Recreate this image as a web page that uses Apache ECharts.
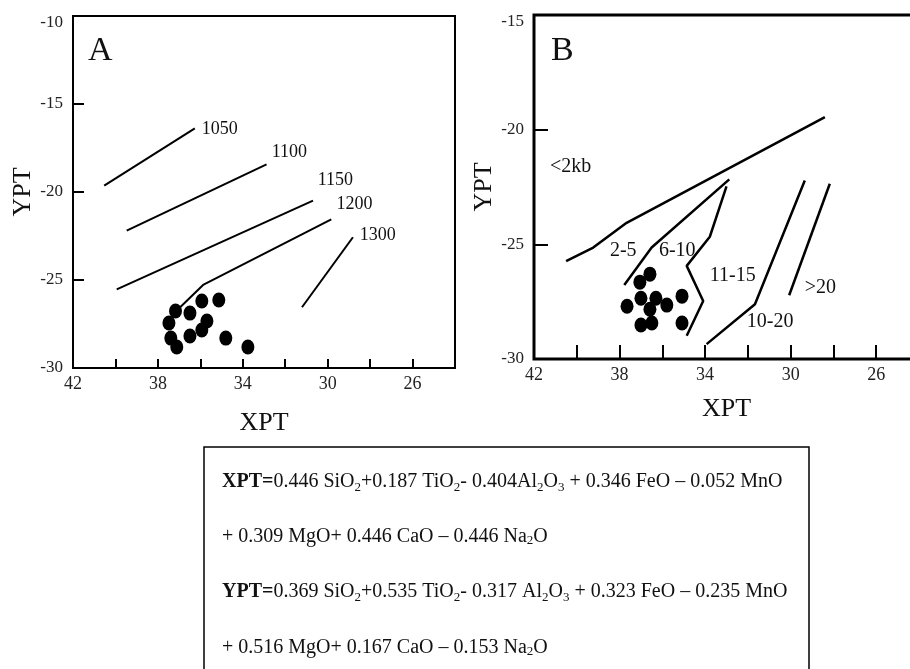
<!DOCTYPE html>
<html>
<head>
<meta charset="utf-8">
<title>XPT - YPT</title>
<script src="https://cdn.jsdelivr.net/npm/echarts@6/dist/echarts.min.js"></script>
<style>
  html, body { margin: 0; padding: 0; background: #fff; }
  #main { width: 910px; height: 669px; }
</style>
</head>
<body>
<div id="main"></div>
<script>
// sample points (XPT, YPT)
var samplesA = [
  [37.17, -26.76], [37.48, -27.44], [36.49, -26.88], [35.93, -26.19],
  [35.13, -26.14], [35.69, -27.33], [35.93, -27.84], [36.49, -28.18],
  [37.39, -28.30], [37.11, -28.81], [34.80, -28.30], [33.76, -28.81]
];
var samplesB = [
  [36.58, -26.30], [37.05, -26.65], [37.65, -27.70], [37.00, -27.35],
  [36.30, -27.35], [35.79, -27.65], [35.08, -27.26], [36.58, -27.83],
  [36.49, -28.43], [37.00, -28.52], [35.08, -28.43]
];

// isotherms (panel A)
var line1050 = [[40.53, -19.64], [36.26, -16.38]];
var line1100 = [[39.47, -22.20], [32.88, -18.43]];
var line1150 = [[39.94, -25.53], [30.69, -20.49]];
var line1200 = [[37.00, -26.60], [35.87, -25.28], [29.83, -21.55]];
var line1300 = [[31.21, -26.55], [28.81, -22.57]];
var labelsA = [
  ['1050', 35.93, -16.42], ['1100', 32.64, -17.73], ['1150', 30.47, -19.32],
  ['1200', 29.58, -20.68], ['1300', 28.49, -22.44]
];

// pressure fields (panel B)
var line2kb = [[40.50, -25.73], [39.23, -25.14], [37.67, -24.06], [28.40, -19.45]];
var line2to5 = [[37.78, -26.77], [36.50, -25.14], [32.87, -22.17]];
var line6to10 = [[33.00, -22.47], [33.78, -24.67], [34.86, -25.94], [34.09, -27.47], [34.86, -28.99]];
var line10to20 = [[29.34, -22.22], [31.67, -27.61], [33.93, -29.35]];
var line20 = [[28.17, -22.36], [30.07, -27.22]];
var labelsB = [
  ['<2kb', 41.25, -21.6], ['2-5', 38.45, -25.3], ['6-10', 36.16, -25.3],
  ['11-15', 33.78, -26.39], ['>20', 29.34, -26.91], ['10-20', 32.05, -28.39]
];

var serif = 'Liberation Serif';

function lineSeries(data, idx, w) {
  return {
    type: 'line', xAxisIndex: idx, yAxisIndex: idx, data: data,
    symbol: 'none', silent: true,
    lineStyle: { color: '#000', width: w }
  };
}
function dotSeries(data, idx) {
  return {
    type: 'scatter', xAxisIndex: idx, yAxisIndex: idx, data: data,
    symbol: 'circle', symbolSize: [13, 15],
    itemStyle: { color: '#000', opacity: 1 }, z: 5
  };
}
function textSeries(list, idx, size) {
  return {
    type: 'scatter', xAxisIndex: idx, yAxisIndex: idx, symbolSize: 0, silent: true,
    itemStyle: { opacity: 1 },
    data: list.map(function (d) { return { name: d[0], value: [d[1], d[2]] }; }),
    label: {
      show: true, position: 'right', distance: 0, formatter: '{b}',
      fontFamily: serif, fontSize: size, color: '#111', opacity: 1
    }
  };
}
function xAxisOf(idx, tickLen) {
  return {
    gridIndex: idx, type: 'value', min: 24, max: 42, interval: 2, inverse: true,
    name: 'XPT', nameLocation: 'middle', nameGap: idx ? 37 : 42,
    nameTextStyle: { fontFamily: serif, fontSize: 26, color: '#111' },
    axisLine: { show: false },
    axisTick: { inside: true, length: tickLen, lineStyle: { color: '#000', width: 2 } },
    axisLabel: {
      margin: 7, fontFamily: serif, fontSize: 18, color: '#222',
      formatter: function (v) { return (42 - v) % 4 === 0 ? String(v) : ''; }
    },
    splitLine: { show: false }
  };
}
function yAxisOf(idx, min, max, tickLen) {
  return {
    gridIndex: idx, type: 'value', min: min, max: max, interval: 5,
    name: 'YPT', nameLocation: 'middle', nameGap: idx ? 30 : 34,
    nameTextStyle: { fontFamily: serif, fontSize: 26, color: '#111' },
    axisLine: { show: false },
    axisTick: { inside: true, length: tickLen, lineStyle: { color: '#000', width: 2 } },
    axisLabel: {
      margin: 10, fontFamily: serif, fontSize: 17, color: '#222',
      formatter: function (v) { return v === max ? '{t|' + v + '}' : String(v); },
      rich: { t: { padding: [14, 0, 0, 0], fontFamily: serif, fontSize: 17, color: '#222' } }
    },
    splitLine: { show: false }
  };
}

var subRich = {
  b: { fontFamily: serif, fontSize: 20, fontWeight: 'bold', color: '#111', lineHeight: 24 },
  s: { fontFamily: serif, fontSize: 13, color: '#111', lineHeight: 15, verticalAlign: 'bottom' }
};
var formulaLines = [
  '{b|XPT=}0.446 SiO{s|2}+0.187 TiO{s|2}- 0.404Al{s|2}O{s|3} + 0.346 FeO \u2013 0.052 MnO',
  '+ 0.309 MgO+ 0.446 CaO \u2013 0.446 Na{s|2}O',
  '{b|YPT=}0.369 SiO{s|2}+0.535 TiO{s|2}- 0.317 Al{s|2}O{s|3} + 0.323 FeO \u2013 0.235 MnO',
  '+ 0.516 MgO+ 0.167 CaO \u2013 0.153 Na{s|2}O'
];
var formulaY = [482, 537, 592, 648];

var chart = echarts.init(document.getElementById('main'));
chart.setOption({
  animation: false,
  backgroundColor: '#fff',
  grid: [
    { left: 73, top: 16, width: 382, height: 352, show: true, borderColor: '#000', borderWidth: 2,
      outerBoundsMode: 'none' },
    { left: 534, top: 15, width: 385, height: 344, show: true, borderColor: '#000', borderWidth: 3,
      outerBoundsMode: 'none' }
  ],
  xAxis: [xAxisOf(0, 9), xAxisOf(1, 14)],
  yAxis: [yAxisOf(0, -30, -10, 11), yAxisOf(1, -30, -15, 14)],
  series: [
    lineSeries(line1050, 0, 2), lineSeries(line1100, 0, 2), lineSeries(line1150, 0, 2),
    lineSeries(line1200, 0, 2), lineSeries(line1300, 0, 2),
    dotSeries(samplesA, 0), textSeries(labelsA, 0, 18),
    lineSeries(line2kb, 1, 2.5), lineSeries(line2to5, 1, 2.5), lineSeries(line6to10, 1, 2.5),
    lineSeries(line10to20, 1, 2.5), lineSeries(line20, 1, 2.5),
    dotSeries(samplesB, 1), textSeries(labelsB, 1, 20)
  ],
  graphic: [
    { type: 'text', left: 88, top: 34, style: { text: 'A', font: '34px "Liberation Serif"', fill: '#111' } },
    { type: 'text', left: 551, top: 34, style: { text: 'B', font: '34px "Liberation Serif"', fill: '#111' } },
    { type: 'rect', shape: { x: 204, y: 447, width: 605, height: 260 },
      style: { fill: 'none', stroke: '#000', lineWidth: 1.5 } }
  ].concat(formulaLines.map(function (t, i) {
    return {
      type: 'text', x: 222, y: formulaY[i],
      style: {
        text: t, fontFamily: serif, fontSize: 20, fill: '#111',
        verticalAlign: 'middle', rich: subRich
      }
    };
  }))
});
</script>
</body>
</html>
